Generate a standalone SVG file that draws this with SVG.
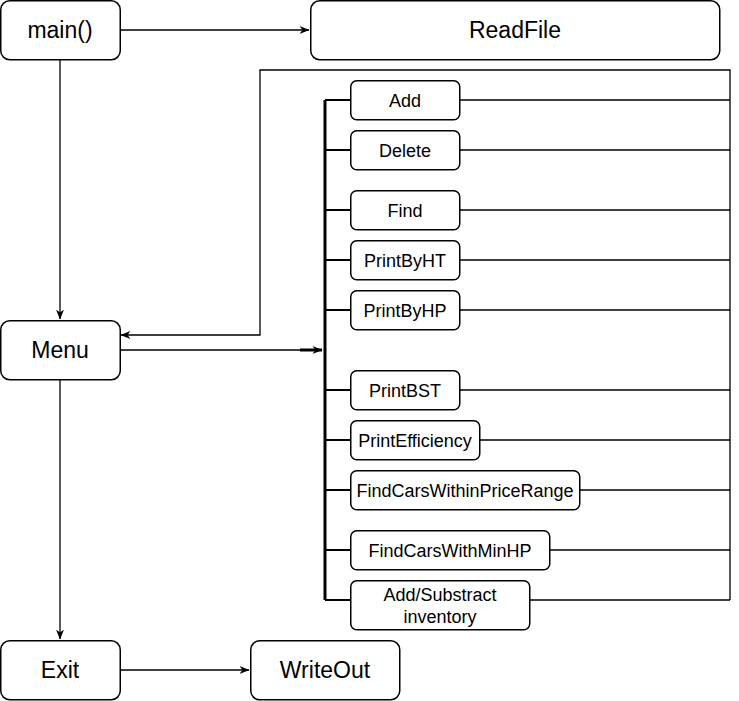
<svg xmlns="http://www.w3.org/2000/svg" width="739" height="701" viewBox="0 0 739 701">
<style>
.box{fill:#fff;stroke:#000;stroke-width:1.5}
.big{font-family:"Liberation Sans",Arial,sans-serif;font-size:23px;fill:#000;text-anchor:middle}
.sm{font-family:"Liberation Sans",Arial,sans-serif;font-size:18px;fill:#000;text-anchor:middle}
.ln{fill:none;stroke:#000;stroke-width:1.3}
.tk{fill:none;stroke:#000;stroke-width:2.2}
.br{fill:none;stroke:#000;stroke-width:3}
</style>
<defs>
<marker id="ah" viewBox="0 0 10 8" refX="9.5" refY="4" markerWidth="10" markerHeight="8" markerUnits="userSpaceOnUse" orient="auto">
<path d="M0,0 L10,4 L0,8 L3,4 z" fill="#000"/>
</marker>
</defs>
<rect width="739" height="701" fill="#fff"/>
<g id="connectors">
<path class="ln" d="M120,30 H309" marker-end="url(#ah)"/>
<path class="ln" d="M60,60 V319" marker-end="url(#ah)"/>
<path class="ln" d="M60,380 V639" marker-end="url(#ah)"/>
<path class="ln" d="M120,670 H249" marker-end="url(#ah)"/>
<path class="ln" d="M730,600 V70 H260 V335 H121" marker-end="url(#ah)"/>
<path class="ln" d="M120,350 H300"/>
<path class="br" d="M300,350 H322" marker-end="url(#ah)"/>
<path class="br" d="M325,100 V600"/>
<path class="tk" d="M325,100 H350 M325,150 H350 M325,210 H350 M325,260 H350 M325,310 H350 M325,390 H350 M325,440 H350 M325,490 H350 M325,550 H350 M325,600 H350"/>
<path class="ln" d="M460,100 H730 M460,150 H730 M460,210 H730 M460,260 H730 M460,310 H730 M460,390 H730 M480,440 H730 M580,490 H730 M550,550 H730 M530,600 H730"/>
</g>
<g id="main"><rect class="box" x="0.75" y="0.75" width="119.5" height="59" rx="9"/><text class="big" x="60" y="38">main()</text></g>
<g id="readfile"><rect class="box" x="310.75" y="0.75" width="409" height="59" rx="9"/><text class="big" x="515" y="38">ReadFile</text></g>
<g id="menu"><rect class="box" x="0.75" y="320.75" width="119.5" height="59" rx="9"/><text class="big" x="60" y="358">Menu</text></g>
<g id="exit"><rect class="box" x="0.75" y="640.75" width="119.5" height="59" rx="9"/><text class="big" x="60" y="678">Exit</text></g>
<g id="writeout"><rect class="box" x="250.75" y="640.75" width="149" height="59" rx="9"/><text class="big" x="325" y="678">WriteOut</text></g>
<g id="add"><rect class="box" x="350.75" y="80.75" width="109" height="39" rx="6"/><text class="sm" x="405" y="107">Add</text></g>
<g id="delete"><rect class="box" x="350.75" y="130.75" width="109" height="39" rx="6"/><text class="sm" x="405" y="157">Delete</text></g>
<g id="find"><rect class="box" x="350.75" y="190.75" width="109" height="39" rx="6"/><text class="sm" x="405" y="217">Find</text></g>
<g id="printbyht"><rect class="box" x="350.75" y="240.75" width="109" height="39" rx="6"/><text class="sm" x="405" y="267">PrintByHT</text></g>
<g id="printbyhp"><rect class="box" x="350.75" y="290.75" width="109" height="39" rx="6"/><text class="sm" x="405" y="317">PrintByHP</text></g>
<g id="printbst"><rect class="box" x="350.75" y="370.75" width="109" height="39" rx="6"/><text class="sm" x="405" y="397">PrintBST</text></g>
<g id="printefficiency"><rect class="box" x="350.75" y="420.75" width="129" height="39" rx="6"/><text class="sm" x="415" y="447">PrintEfficiency</text></g>
<g id="findcarswithinpricerange"><rect class="box" x="350.75" y="470.75" width="229" height="39" rx="6"/><text class="sm" x="465" y="497">FindCarsWithinPriceRange</text></g>
<g id="findcarswithminhp"><rect class="box" x="350.75" y="530.75" width="199" height="39" rx="6"/><text class="sm" x="450" y="557">FindCarsWithMinHP</text></g>
<g id="addsubstract"><rect class="box" x="350.75" y="580.75" width="179" height="49" rx="6"/><text class="sm" x="440" y="601">Add/Substract</text><text class="sm" x="440" y="623">inventory</text></g>
</svg>
